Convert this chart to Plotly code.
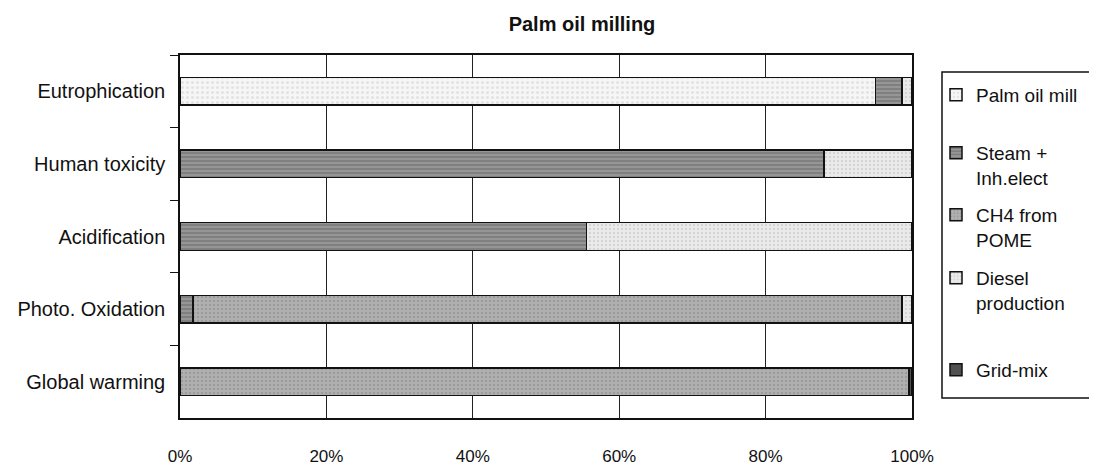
import plotly.graph_objects as go

categories = ["Eutrophication", "Human toxicity", "Acidification", "Photo. Oxidation", "Global warming"]
series_names = ["Palm oil mill", "Steam +<br>Inh.elect", "CH4 from<br>POME", "Diesel<br>production", "Grid-mix"]
palm_oil_mill = [95.0, 0.0, 0.0, 0.0, 0.0]
steam_inh_elect = [3.6, 88.0, 55.5, 1.8, 0.0]
ch4_from_pome = [0.0, 0.0, 0.0, 96.8, 99.6]
diesel_production = [1.4, 12.0, 44.5, 1.4, 0.0]
grid_mix = [0.0, 0.0, 0.0, 0.0, 0.4]
x_ticks = [0, 20, 40, 60, 80, 100]
x_tick_labels = ["0%", "20%", "40%", "60%", "80%", "100%"]

values = [palm_oil_mill, steam_inh_elect, ch4_from_pome, diesel_production, grid_mix]
styles = [
    dict(bg="#f6f6f6", fg="#cfcfcf", shape=".", size=5),
    dict(bg="#969696", fg="#4a4a4a", shape="-", size=4),
    dict(bg="#b0b0b0", fg="#858585", shape=".", size=4),
    dict(bg="#ebebeb", fg="#bdbdbd", shape=".", size=4),
    dict(bg="#505050", fg="#303030", shape="", size=4),
]

# page body has an 8px margin; figure coordinates are screen - 8
W, H = 1097, 462
L, R, T, B = 172, 193, 47, 52
pw = W - L - R
ph = H - T - B

def px_x(fx):
    return (fx - L) / pw

def px_y(fy):
    return (H - B - fy) / ph

legend_ids = ["legend", "legend2", "legend3", "legend4", "legend5"]
legend_first_line = [89, 147, 209, 272, 364]  # figure px, centre of first text line

fig = go.Figure()
for name, vals, st, lid in zip(series_names, values, styles, legend_ids):
    fig.add_trace(go.Bar(
        y=categories, x=vals, name=name, orientation="h",
        legend=lid, showlegend=True,
        marker=dict(color=st["bg"], line=dict(color="#111111", width=1.5),
                    pattern=dict(shape=st["shape"], fgcolor=st["fg"], bgcolor=st["bg"],
                                 size=st["size"], solidity=0.3, fillmode="overlay")),
    ))

legend_layout = {}
for lid, fy in zip(legend_ids, legend_first_line):
    legend_layout[lid] = dict(
        x=px_x(928), xanchor="left", y=px_y(fy - 21), yanchor="top",
        bgcolor="rgba(0,0,0,0)", borderwidth=0, font=dict(size=19),
        valign="top", itemwidth=30, visible=True,
    )

fig.update_layout(
    width=W, height=H, showlegend=True,
    barmode="stack", bargap=0.62,
    paper_bgcolor="white", plot_bgcolor="white",
    margin=dict(l=L, r=R, t=T, b=B, autoexpand=False),
    font=dict(family="Liberation Sans, Arial, sans-serif", size=20, color="#111111"),
    title=dict(text="<b>Palm oil milling</b>", x=574/W, xref="container", xanchor="center",
               y=1 - 16/H, yref="container", yanchor="middle", font=dict(size=20)),
    xaxis=dict(range=[0, 100], tickvals=x_ticks, ticktext=x_tick_labels,
               showgrid=True, gridcolor="#222222", gridwidth=1,
               showline=True, linecolor="#111111", linewidth=1.5, mirror=True,
               zeroline=False, ticks="", ticklabelstandoff=22, automargin=False,
               tickfont=dict(size=17)),
    yaxis=dict(categoryorder="array", categoryarray=categories, autorange="reversed",
               showline=True, linecolor="#111111", linewidth=1.5, mirror=True,
               ticks="outside", tickson="boundaries", ticklen=8, tickcolor="#111111",
               showgrid=False, ticklabelstandoff=9, automargin=False),
    shapes=[dict(type="rect", xref="paper", yref="paper",
                 x0=px_x(934), x1=px_x(1300), y0=px_y(390), y1=px_y(64),
                 line=dict(color="#111111", width=1.5), fillcolor="rgba(0,0,0,0)")],
    **legend_layout,
)

fig.write_html("out.html")
